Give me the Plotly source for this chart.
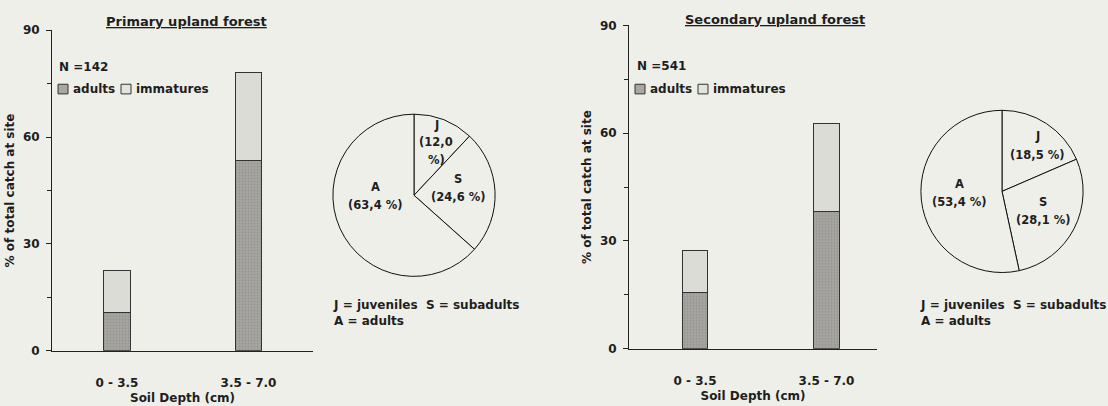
import plotly.graph_objects as go

W, H = 1108, 406

# ---- data ----
depth_cats = ["0 - 3.5", "3.5 - 7.0"]
primary_adults = [10.6, 53.4]
primary_immatures = [11.9, 24.6]
secondary_adults = [15.6, 38.2]
secondary_immatures = [11.8, 24.5]

pie_labels = ["J", "S", "A"]
primary_pie = [12.0, 24.6, 63.4]
secondary_pie = [18.5, 28.1, 53.4]
primary_N = 142
secondary_N = 541
series_names = ["adults", "immatures"]

BG = "#efefe9"
ADULT = "#a9a7a2"
IMM = "#dcdcd6"
INK = "#1e1e1e"
FONT = "DejaVu Sans"

def px(x):
    return x / W

def py(y):
    return 1 - y / H

adult_marker = dict(color=ADULT, line=dict(color="#333", width=1),
                    pattern=dict(shape=".", fgcolor="#7f7d7a", bgcolor=ADULT, size=3, solidity=0.35))
imm_marker = dict(color=IMM, line=dict(color="#333", width=1))

fig = go.Figure()

fig.add_trace(go.Bar(x=depth_cats, y=primary_adults, name=series_names[0], width=0.198,
                     marker=adult_marker, xaxis="x", yaxis="y"))
fig.add_trace(go.Bar(x=depth_cats, y=primary_immatures, name=series_names[1], width=0.198,
                     marker=imm_marker, xaxis="x", yaxis="y"))
fig.add_trace(go.Bar(x=depth_cats, y=secondary_adults, name=series_names[0], width=0.195,
                     marker=adult_marker, xaxis="x2", yaxis="y2"))
fig.add_trace(go.Bar(x=depth_cats, y=secondary_immatures, name=series_names[1], width=0.195,
                     marker=imm_marker, xaxis="x2", yaxis="y2"))

fig.add_trace(go.Pie(labels=pie_labels, values=primary_pie, sort=False, direction="clockwise",
                     rotation=0, textinfo="none", hoverinfo="label+percent",
                     marker=dict(colors=[BG] * 3, line=dict(color="#111", width=1)),
                     domain=dict(x=[px(330), px(498)], y=[py(279), py(111)])))
fig.add_trace(go.Pie(labels=pie_labels, values=secondary_pie, sort=False, direction="clockwise",
                     rotation=0, textinfo="none", hoverinfo="label+percent",
                     marker=dict(colors=[BG] * 3, line=dict(color="#111", width=1)),
                     domain=dict(x=[px(918), px(1086)], y=[py(275), py(107)])))

def fmt(v):
    return f"{v:.1f}".replace(".", ",")

tickfont = dict(family=FONT, size=12, color=INK, weight="bold")
titlefont = dict(family=FONT, size=12, color=INK, weight="bold")
axis_common = dict(showline=True, linecolor="#222", linewidth=1, showgrid=False, zeroline=False)

def xax(domain, rng, anchor):
    return dict(domain=domain, range=rng, ticks="", anchor=anchor, tickfont=tickfont,
                ticklabelstandoff=21, title=dict(text="Soil Depth (cm)", font=titlefont, standoff=4),
                **axis_common)

def yax(domain, anchor):
    return dict(domain=domain, range=[0, 90], tickvals=[0, 30, 60, 90], ticks="outside",
                ticklen=5, tickcolor="#222", anchor=anchor, tickfont=tickfont, ticklabelstandoff=4,
                minor=dict(tickvals=[15, 45, 75], ticks="outside", ticklen=4, tickcolor="#222"),
                title=dict(text="% of total catch at site", font=titlefont, standoff=5),
                **axis_common)

fig.update_layout(
    width=W, height=H, margin=dict(l=0, r=0, t=0, b=0),
    paper_bgcolor=BG, plot_bgcolor=BG, barmode="stack", showlegend=False,
    font=dict(family=FONT, color=INK),
    xaxis=xax([px(52), px(313)], [-0.494, 1.49], "y"),
    yaxis=yax([py(356), py(24)], "x"),
    xaxis2=xax([px(629), px(877)], [-0.502, 1.384], "y2"),
    yaxis2=yax([py(354), py(19)], "x2"),
)

ann = []
shapes = []

def text(t, x, y, size=12, xanchor="center", yanchor="middle", weight="bold", align="center"):
    ann.append(dict(text=t, x=px(x), y=py(y), xref="paper", yref="paper", showarrow=False,
                    xanchor=xanchor, yanchor=yanchor, align=align,
                    font=dict(family=FONT, size=size, color=INK, weight=weight)))

# titles
text("<u>Primary upland forest</u>", 186, 15, size=13)
text("<u>Secondary upland forest</u>", 775, 13, size=13)

# in-chart legends (N and swatches)
def legend_block(n, x0, y_n, y_row, sw1, t1, sw2, t2):
    text(f"N ={n}", x0, y_n, size=12, xanchor="left")
    for sx, fill in ((sw1, ADULT), (sw2, "#e4e4de")):
        shapes.append(dict(type="rect", xref="paper", yref="paper",
                           x0=px(sx), x1=px(sx + 10), y0=py(y_row + 5), y1=py(y_row - 5),
                           fillcolor=fill, line=dict(color="#333", width=1)))
    text(series_names[0], t1, y_row, size=12, xanchor="left")
    text(series_names[1], t2, y_row, size=12, xanchor="left")

legend_block(primary_N, 57, 62, 85, 58, 71, 121, 134)
legend_block(secondary_N, 635, 61, 85, 635, 648, 698, 711)

# pie labels
def pie_label(lbl, val, x, y, split=False):
    text(lbl, x, y, size=11.5)
    if split:
        text(f"({fmt(val)}", x, y + 18, size=11.5)
        text("%)", x, y + 36, size=11.5)
    else:
        text(f"({fmt(val)} %)", x, y + 19, size=11.5)

pie_label(pie_labels[0], primary_pie[0], 436, 122, split=True)
pie_label(pie_labels[1], primary_pie[1], 458, 178)
pie_label(pie_labels[2], primary_pie[2], 375, 186)

pie_label(pie_labels[0], secondary_pie[0], 1037, 134)
pie_label(pie_labels[1], secondary_pie[1], 1043, 202)
pie_label(pie_labels[2], secondary_pie[2], 959, 183)

key_text = "J = juveniles \u00a0S = subadults<br>A = adults"
text(key_text, 331, 299, size=12, xanchor="left", yanchor="top", align="left")
text(key_text, 918, 299, size=12, xanchor="left", yanchor="top", align="left")

fig.update_layout(annotations=ann, shapes=shapes)

fig.write_html("out.html")
